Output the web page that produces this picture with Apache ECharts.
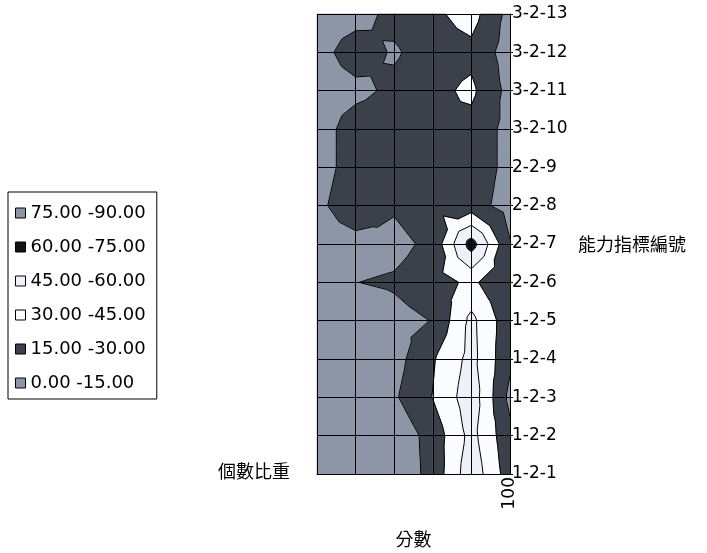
<!DOCTYPE html>
<html><head><meta charset="utf-8">
<script src="https://cdn.jsdelivr.net/npm/echarts@6/dist/echarts.min.js"></script>
<style>html,body{margin:0;padding:0;background:#fff}#c{width:707px;height:553px}</style>
</head><body><div id="c"></div>
<script>
// x axis: score columns (only the last label is printed in the original)
const scoreLabels = ['', '', '', '', '', '100'];
// y axis: ability indicator codes, bottom to top
const indicatorCodes = ['1-2-1','1-2-2','1-2-3','1-2-4','1-2-5','2-2-6','2-2-7','2-2-8','2-2-9','3-2-10','3-2-11','3-2-12','3-2-13'];
// share values (個數比重) for each indicator across the six score columns
const r_1_2_1  = [3, 4, 4, 20, 55, 22];
const r_1_2_2  = [3, 4, 4, 21, 50, 19];
const r_1_2_3  = [3, 5, 13, 30.5, 54, 11];
const r_1_2_4  = [3, 5, 9, 28.5, 50, 18];
const r_1_2_5  = [3, 5, 10, 15.5, 49, 20];
const r_2_2_6  = [4, 14.8, 17, 24, 33, 17];
const r_2_2_7  = [5, 8, 10, 19, 67, 16];
const r_2_2_8  = [10, 28, 17, 26, 22, 8];
const r_2_2_9  = [6, 24, 27, 26, 25, 10];
const r_3_2_10 = [6, 24, 27, 27, 25, 10];
const r_3_2_11 = [5, 10, 19, 26, 33, 10];
const r_3_2_12 = [8, 24, 13, 23, 26, 8];
const r_3_2_13 = [5, 8, 20, 27, 36, 10];
// bands (legend, top to bottom)
const bandNames = ['75.00 -90.00', '60.00 -75.00', '45.00 -60.00', '30.00 -45.00', '15.00 -30.00', '0.00 -15.00'];
const bandLow   = [75, 60, 45, 30, 15, -Infinity];
const bandHigh  = [Infinity, 75, 60, 45, 30, 15];
const bandColors = ['#8D96A7', '#101318', '#EEF2F8', '#FBFCFF', '#3B414B', '#8D96A7'];
const contourLevels = [15, 30, 45, 60, 75];

const grid = [r_1_2_1, r_1_2_2, r_1_2_3, r_1_2_4, r_1_2_5, r_2_2_6, r_2_2_7, r_2_2_8, r_2_2_9, r_3_2_10, r_3_2_11, r_3_2_12, r_3_2_13];
const cells = [];
for (let j = 0; j < indicatorCodes.length - 1; j++)
  for (let i = 0; i < scoreLabels.length - 1; i++) cells.push([i, j]);

function cellTriangles(api) {
  const i = api.value(0), j = api.value(1);
  const p0 = api.coord([i, j]), p1 = api.coord([i + 1, j + 1]);
  const A = {x: p0[0], y: p0[1], v: grid[j][i]};
  const B = {x: p1[0], y: p0[1], v: grid[j][i + 1]};
  const C = {x: p1[0], y: p1[1], v: grid[j + 1][i + 1]};
  const D = {x: p0[0], y: p1[1], v: grid[j + 1][i]};
  const E = {x: (p0[0] + p1[0]) / 2, y: (p0[1] + p1[1]) / 2, v: (A.v + B.v + C.v + D.v) / 4};
  return [[A, B, E], [B, C, E], [C, D, E], [D, A, E]];
}
function clip(poly, f) {
  const out = [];
  for (let k = 0; k < poly.length; k++) {
    const a = poly[k], b = poly[(k + 1) % poly.length];
    const fa = f(a), fb = f(b);
    if (fa >= 0) out.push(a);
    if ((fa >= 0) !== (fb >= 0)) {
      const t = fa / (fa - fb);
      out.push({x: a.x + t * (b.x - a.x), y: a.y + t * (b.y - a.y), v: a.v + t * (b.v - a.v)});
    }
  }
  return out;
}
function bandRender(k) {
  return function (params, api) {
    const lo = bandLow[k], hi = bandHigh[k];
    let d = '';
    cellTriangles(api).forEach(function (tri) {
      let p = tri;
      if (isFinite(lo)) p = clip(p, q => q.v - lo);
      if (p.length >= 3 && isFinite(hi)) p = clip(p, q => hi - q.v);
      if (p.length >= 3) {
        d += 'M' + p.map(q => q.x.toFixed(2) + ' ' + q.y.toFixed(2)).join(' L') + ' Z ';
      }
    });
    if (!d) return null;
    return {type: 'path', shape: {pathData: d},
      style: {fill: bandColors[k], stroke: bandColors[k], lineWidth: 0.6}};
  };
}
function contourRender(params, api) {
  const children = [];
  cellTriangles(api).forEach(function (tri) {
    contourLevels.forEach(function (L) {
      const pts = [];
      for (let k = 0; k < 3; k++) {
        const a = tri[k], b = tri[(k + 1) % 3];
        if ((a.v >= L) !== (b.v >= L)) {
          const t = (L - a.v) / (b.v - a.v);
          pts.push([a.x + t * (b.x - a.x), a.y + t * (b.y - a.y)]);
        }
      }
      if (pts.length === 2) children.push({type: 'polyline', shape: {points: pts},
        style: {stroke: '#000', lineWidth: 1, fill: null}});
    });
  });
  return {type: 'group', children: children};
}

const latin = 'DejaVu Sans';
const cjk = '"Noto Sans CJK TC"';
const series = bandNames.map(function (name, k) {
  return {type: 'custom', name: name, data: cells, encode: {x: 0, y: 1}, renderItem: bandRender(k),
    itemStyle: {color: bandColors[k]}, silent: true, z: 2, animation: false};
});
series.push({type: 'custom', name: 'contour', data: cells, encode: {x: 0, y: 1}, renderItem: contourRender,
  silent: true, z: 3, animation: false});

const chart = echarts.init(document.getElementById('c'));
chart.setOption({
  animation: false,
  backgroundColor: '#fff',
  grid: {left: 317, top: 14, right: 197, bottom: 78, containLabel: false},
  legend: {
    orient: 'vertical', left: 8, top: 192, data: bandNames, icon: 'rect', selectedMode: false,
    itemWidth: 10, itemHeight: 10, itemGap: 16, padding: [12, 11, 7, 7],
    borderColor: '#000', borderWidth: 1,
    itemStyle: {borderColor: '#000', borderWidth: 1},
    textStyle: {fontFamily: latin, fontSize: 18, color: '#000'}
  },
  xAxis: {
    type: 'category', data: scoreLabels, boundaryGap: false, position: 'bottom', z: 10,
    name: '分數', nameLocation: 'middle', nameGap: 56,
    nameTextStyle: {fontFamily: cjk, fontSize: 18, color: '#000'},
    axisLine: {show: true, lineStyle: {color: '#000', width: 1}},
    axisTick: {show: false},
    axisLabel: {rotate: 90, interval: 0, margin: 3, fontFamily: latin, fontSize: 17, color: '#000'},
    splitLine: {show: true, lineStyle: {color: '#000', width: 1}}
  },
  yAxis: {
    type: 'category', data: indicatorCodes, boundaryGap: false, position: 'right', z: 10,
    name: '能力指標編號', nameLocation: 'middle', nameRotate: 0, nameGap: 68,
    nameTextStyle: {fontFamily: cjk, fontSize: 18, color: '#000'},
    axisLine: {show: true, lineStyle: {color: '#000', width: 1}},
    axisTick: {show: true, length: 3, lineStyle: {color: '#000'}},
    axisLabel: {interval: 0, margin: 2, fontFamily: latin, fontSize: 17, color: '#000'},
    splitLine: {show: true, lineStyle: {color: '#000', width: 1}}
  },
  graphic: [{type: 'text', left: 218, top: 462,
    style: {text: '個數比重', font: '18px ' + cjk, fill: '#000'}}],
  series: series
});
</script></body></html>
